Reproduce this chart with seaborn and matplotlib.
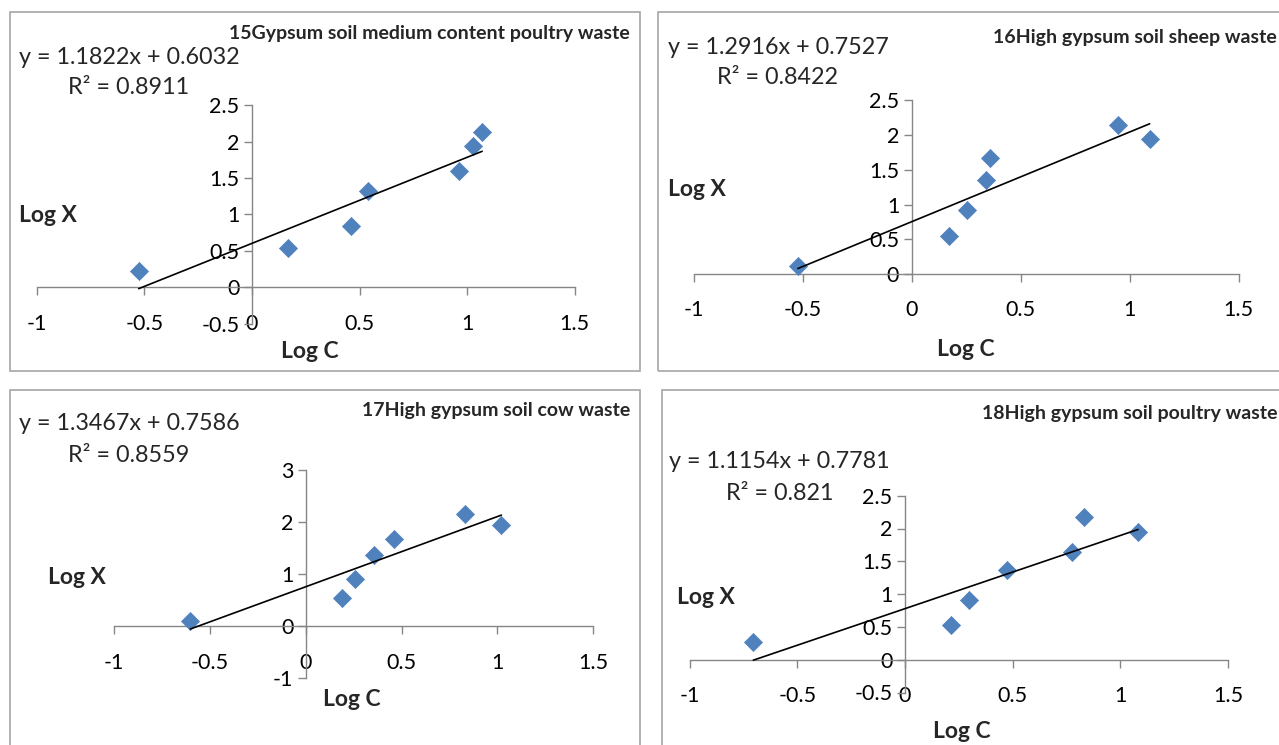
import matplotlib

matplotlib.use("Agg")
import matplotlib.pyplot as plt  # noqa: E402
import numpy as np  # noqa: E402
import pandas as pd  # noqa: E402
import seaborn as sns  # noqa: E402
from matplotlib.patches import Rectangle  # noqa: E402
from matplotlib.ticker import FuncFormatter  # noqa: E402

# ── Data ──────────────────────────────────────────────────────────────────────
titles = [
    "15Gypsum soil medium content poultry waste",
    "16High gypsum soil sheep waste",
    "17High gypsum soil cow waste",
    "18High gypsum soil poultry waste",
]

p15_logc = [-0.526, 0.170, 0.461, 0.541, 0.964, 1.029, 1.070]
p15_logx = [0.229, 0.536, 0.847, 1.328, 1.603, 1.946, 2.138]

p16_logc = [-0.522, 0.173, 0.255, 0.340, 0.358, 0.947, 1.091]
p16_logx = [0.120, 0.547, 0.921, 1.353, 1.675, 2.145, 1.939]

p17_logc = [-0.603, 0.190, 0.258, 0.356, 0.458, 0.832, 1.021]
p17_logx = [0.108, 0.542, 0.906, 1.372, 1.672, 2.157, 1.946]

p18_logc = [-0.704, 0.216, 0.296, 0.473, 0.775, 0.833, 1.082]
p18_logx = [0.265, 0.536, 0.914, 1.363, 1.640, 2.170, 1.950]

slopes = [1.1822, 1.2916, 1.3467, 1.1154]
intercepts = [0.6032, 0.7527, 0.7586, 0.7781]
r2_values = ["0.8911", "0.8422", "0.8559", "0.821"]

x_ticks = [-1, -0.5, 0, 0.5, 1, 1.5]
y_ticks = [
    [-0.5, 0, 0.5, 1, 1.5, 2, 2.5],
    [0, 0.5, 1, 1.5, 2, 2.5],
    [-1, 0, 1, 2, 3],
    [-0.5, 0, 0.5, 1, 1.5, 2, 2.5],
]

series = [(p15_logc, p15_logx), (p16_logc, p16_logx),
          (p17_logc, p17_logx), (p18_logc, p18_logx)]

# ── Layout (pixels in the 1279x745 canvas) ────────────────────────────────────
W, H = 1279, 745
boxes = [(10, 12, 640, 371), (658, 12, 1290, 371),
         (10, 390, 640, 760), (662, 390, 1290, 760)]
plot_areas = [(36.7, 105.3, 574.7, 323.7), (693.6, 100.3, 1238.8, 274.0),
              (114.3, 470.0, 593.1, 678.3), (689.6, 495.7, 1228.0, 692.5)]
title_pos = [(630, 33, "right"), (1277, 37, "right"),
             (630, 411, "right"), (1277, 414, "right")]
eq_pos = [(19, 57), (668, 47), (19, 424), (669, 462)]
r2_pos = [(68, 87), (717, 78), (68, 456), (726, 493)]
logx_pos = [(19, 216), (668, 190), (48, 577), (677, 597)]
logc_pos = [(310, 352), (966, 349), (352, 700), (962, 731)]

BLUE = "#4F81BD"
GREY = "#868686"

sns.set_theme(style="white")
plt.rcParams["font.family"] = ["Lato", "DejaVu Sans"]


def fx(x):
    return x / W


def fy(y):
    return 1 - y / H


fig = plt.figure(figsize=(W / 100, H / 100), dpi=100)
fmt = FuncFormatter(lambda v, _: f"{v:g}")

for i in range(4):
    bx0, by0, bx1, by1 = boxes[i]
    fig.patches.append(Rectangle((fx(bx0), fy(by1)), fx(bx1 - bx0), (by1 - by0) / H,
                                 transform=fig.transFigure, fill=False,
                                 edgecolor="#A6A6A6", linewidth=1.2, zorder=0))

    l, t, r, b = plot_areas[i]
    ax = fig.add_axes([fx(l), fy(b), fx(r - l), (b - t) / H])
    ax.patch.set_alpha(0)

    logc, logx = series[i]
    df = pd.DataFrame({"logc": logc, "logx": logx})
    sns.scatterplot(data=df, x="logc", y="logx", marker="D", s=85,
                    color=BLUE, edgecolor=BLUE, linewidth=0.5, ax=ax,
                    zorder=3, clip_on=False)

    # Excel-style linear trendline spanning the data range
    x_fit = np.array([min(logc), max(logc)])
    fit = pd.DataFrame({"logc": x_fit, "logx": slopes[i] * x_fit + intercepts[i]})
    sns.lineplot(data=fit, x="logc", y="logx", color="black", linewidth=1.2,
                 ax=ax, zorder=4)

    ax.set_xlim(-1, 1.5)
    ax.set_ylim(y_ticks[i][0], y_ticks[i][-1])
    ax.set_xticks(x_ticks)
    ax.set_yticks(y_ticks[i])
    ax.xaxis.set_major_formatter(fmt)
    ax.yaxis.set_major_formatter(fmt)
    ax.set_xlabel("")
    ax.set_ylabel("")
    for side in ("top", "right"):
        ax.spines[side].set_visible(False)
    ax.spines["left"].set_position(("data", 0))
    ax.spines["bottom"].set_position(("data", 0))
    for side in ("left", "bottom"):
        ax.spines[side].set_color(GREY)
        ax.spines[side].set_linewidth(1.0)
    ax.tick_params(axis="both", which="major", direction="out", length=6,
                   width=1.0, color=GREY, labelsize=15.5, labelcolor="black",
                   bottom=True, left=True, pad=3)
    ax.tick_params(axis="x", pad=13)

    tx, ty, ha = title_pos[i]
    fig.text(fx(tx), fy(ty), titles[i], ha=ha, va="center", fontsize=14,
             fontweight="bold")
    fig.text(fx(eq_pos[i][0]), fy(eq_pos[i][1]),
             f"y = {slopes[i]:.4f}x + {intercepts[i]:.4f}",
             ha="left", va="center", fontsize=16.8)
    fig.text(fx(r2_pos[i][0]), fy(r2_pos[i][1]), f"R² = {r2_values[i]}",
             ha="left", va="center", fontsize=16.8)
    fig.text(fx(logx_pos[i][0]), fy(logx_pos[i][1]), "Log X", ha="left",
             va="center", fontsize=16.5, fontweight="bold")
    fig.text(fx(logc_pos[i][0]), fy(logc_pos[i][1]), "Log C", ha="center",
             va="center", fontsize=16.5, fontweight="bold")

fig.savefig("out.png", dpi=100)
plt.close(fig)
